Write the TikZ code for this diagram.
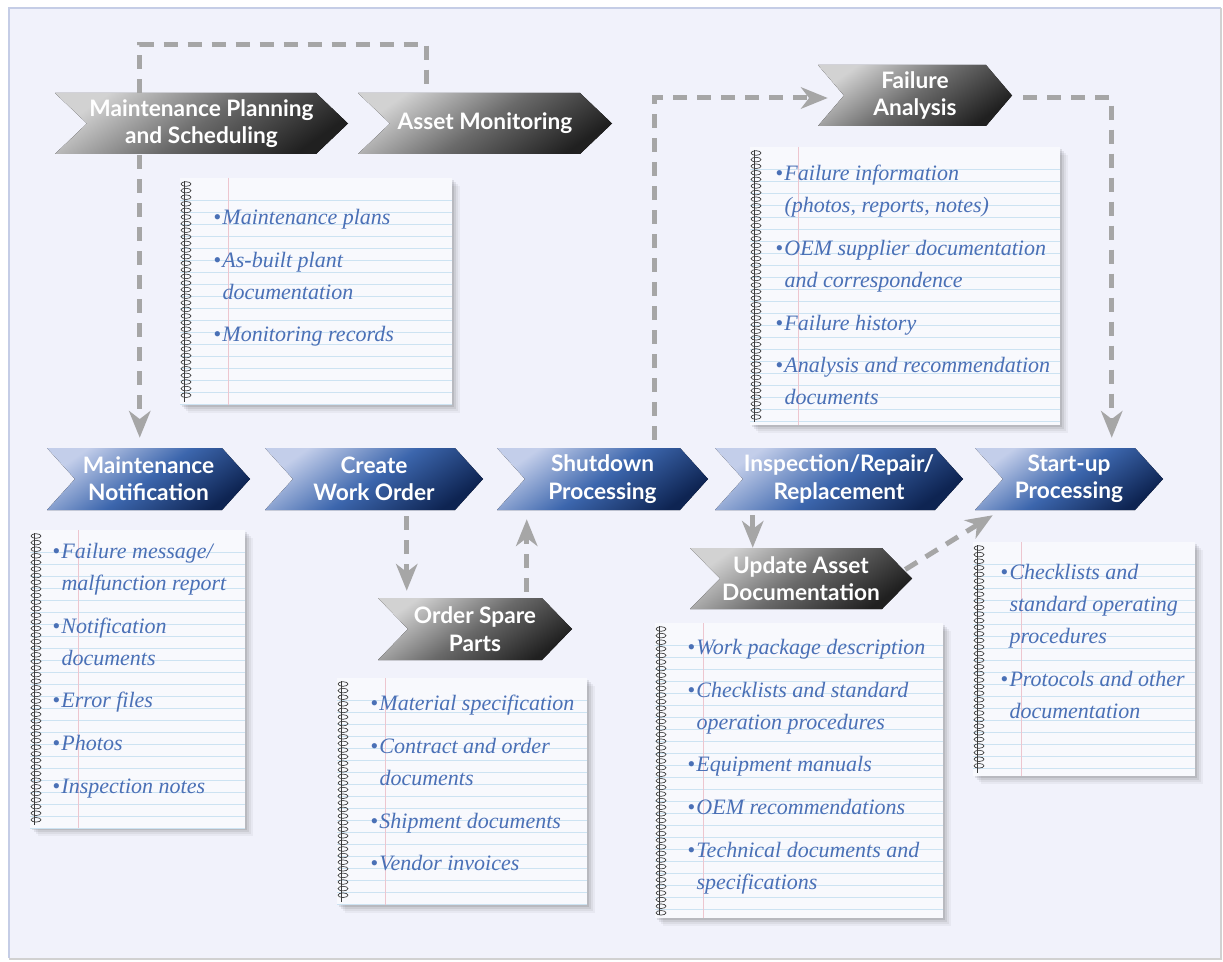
\documentclass[tikz,border=0pt]{standalone}
\usepackage{fontspec}
\newfontfamily\chevfont{Lato}
\newfontfamily\handfont{Liberation Serif}
\usetikzlibrary{arrows.meta,calc}
\definecolor{panelbg}{HTML}{F1F2FB}
\definecolor{panelrule}{HTML}{C5CDE6}
\definecolor{conncol}{HTML}{A6A6A6}
\definecolor{nbpaper}{HTML}{F8F9FD}
\definecolor{nblinec}{HTML}{CDE3F2}
\definecolor{nbmarginc}{HTML}{EDC6CF}
\definecolor{nbblue}{HTML}{4A70B6}
\definecolor{ringcol}{HTML}{3A3A3A}
\definecolor{gtop}{HTML}{D2D2D2}
\definecolor{gmid}{HTML}{6A6A6A}
\definecolor{gbot}{HTML}{202020}
\definecolor{btop}{HTML}{C3CEEA}
\definecolor{bmid}{HTML}{3C66AD}
\definecolor{bbot}{HTML}{0E2452}
\newcommand\bul{\makebox[0.42em][l]{\textbullet}}
\newcommand\ind{\hspace*{0.42em}}
% chevron: #1 name, #2 fill style, #3 left, #4 right, #5 top, #6 bottom, #7 depth, #8 text
\newcommand\chev[8]{%
  \fill[#2] (#3,#5) -- (#4-#7,#5) -- (#4,{(#5+#6)/2}) -- (#4-#7,#6) -- (#3,#6) -- (#3+#7,{(#5+#6)/2}) -- cycle;
  \node[chevtext, minimum width={(#4-#3)*0.75pt}, minimum height={(#6-#5)*0.75pt}] (#1) at ({(#3+#4)/2},{(#5+#6)/2}) {#8};
}
% notebook: #1 x1, #2 y1, #3 x2, #4 y2
\newcommand\notebook[4]{%
  \foreach \s/\o in {8/0.04,6/0.05,4/0.07,2/0.09} {\fill[black,opacity=\o] (#1+\s,#2+\s) rectangle (#3+\s,#4+\s);}
  \fill[nbpaper] (#1,#2) rectangle (#3,#4);
  \begin{scope}
    \clip (#1,#2+20) rectangle (#3,#4);
    \foreach \k in {0,...,30} {\draw[nbline] (#1,#2+22+12*\k) -- (#3,#2+22+12*\k);}
  \end{scope}
  \draw[nbmargin] (#1+48,#2) -- (#1+48,#4);
  \draw[ringc] (#1+4,#2+3) -- (#1+4,#4-3);
  \pgfmathsetmacro\ya{#2+6}\pgfmathsetmacro\yb{#2+12.6}\pgfmathsetmacro\yc{#4-4}
  \foreach \yy in {\ya,\yb,...,\yc} {\draw[ringc] (#1+6,\yy) ellipse [x radius=5,y radius=2.3];}
}
\begin{document}
\begin{tikzpicture}[x=0.75pt,y=-0.75pt,
  chevtext/.style={inner sep=0pt, text=white, align=center, font=\chevfont\bfseries\fontsize{17}{20.5}\selectfont},
  graychev/.style={top color=gtop, bottom color=gbot, middle color=gmid, shading angle=35},
  bluechev/.style={top color=btop, bottom color=bbot, middle color=bmid, shading angle=35},
  nbline/.style={draw=nblinec, line width=0.6pt},
  nbmargin/.style={draw=nbmarginc, line width=0.6pt},
  ringc/.style={draw=ringcol, line width=0.5pt},
  nbtext/.style={inner sep=0pt, anchor=north west, align=left, text=nbblue, font=\handfont\itshape\fontsize{16.5}{24}\selectfont},
  conn/.style={draw=conncol, line width=3.75pt, dash pattern=on 10.5pt off 7.5pt},
  arr/.style={conn, -{Stealth[length=20pt,width=16pt,inset=6pt]}}
]
\useasboundingbox (0,0) rectangle (1223,962);
\fill[white] (0,0) rectangle (1223,962);
\fill[panelbg] (9,8) rectangle (1221,958);
\draw[panelrule, line width=1.2pt] (9,958) -- (9,8) -- (1221,8);
\draw[black!18, line width=1.2pt] (9,959) -- (1221,959) -- (1221,8);

% notebooks
\notebook{180}{178}{452}{405}
\notebook{30}{530}{245}{828}
\notebook{337}{678}{587}{905}
\notebook{655}{623}{943}{918}
\notebook{973}{542}{1195}{776}
\notebook{750}{147}{1060}{425}

\node[nbtext] (nb1) at (213,209) {\bul Maintenance plans\\[8pt]\bul As-built plant\\\ind documentation\\[8pt]\bul Monitoring records};
\node[nbtext] (nb2) at (52,543) {\bul Failure message/\\\ind malfunction report\\[8pt]\bul Notification\\\ind documents\\[8pt]\bul Error files\\[8pt]\bul Photos\\[8pt]\bul Inspection notes};
\node[nbtext] (nb3) at (370,695) {\bul Material specification\\[8pt]\bul Contract and order\\\ind documents\\[8pt]\bul Shipment documents\\[8pt]\bul Vendor invoices};
\node[nbtext] (nb4) at (687,639) {\bul Work package description\\[8pt]\bul Checklists and standard\\\ind operation procedures\\[8pt]\bul Equipment manuals\\[8pt]\bul OEM recommendations\\[8pt]\bul Technical documents and\\\ind specifications};
\node[nbtext] (nb5) at (1000,564) {\bul Checklists and\\\ind standard operating\\\ind procedures\\[8pt]\bul Protocols and other\\\ind documentation};
\node[nbtext] (nb6) at (775,165) {\bul Failure information\\\ind (photos, reports, notes)\\[8pt]\bul OEM supplier documentation\\\ind and correspondence\\[8pt]\bul Failure history\\[8pt]\bul Analysis and recommendation\\\ind documents};

% chevrons
\chev{mps}{graychev}{55}{348}{93}{154}{32}{Maintenance Planning\\and Scheduling}
\chev{am}{graychev}{358}{612}{93}{154}{32}{Asset Monitoring}
\chev{fa}{graychev}{818}{1012}{65}{126}{26}{Failure\\Analysis}
\chev{osp}{graychev}{378}{572}{598}{660}{30}{Order Spare\\Parts}
\chev{uad}{graychev}{690}{912}{548}{609}{30}{Update Asset\\Documentation}
\chev{mn}{bluechev}{47}{250}{448}{510}{28}{Maintenance\\Notification}
\chev{cwo}{bluechev}{265}{483}{448}{510}{28}{Create\\Work Order}
\chev{sp}{bluechev}{497}{708}{448}{510}{28}{Shutdown\\Processing}
\chev{irr}{bluechev}{715}{963}{448}{510}{28}{Inspection/Repair/\\Replacement}
\chev{sup}{bluechev}{975}{1163}{448}{510}{28}{Start-up\\Processing}

% connectors
\draw[conn] ($(mps.north west)+(85,0)$) -- ++(0,-48) -| ($(am.north west)+(69,0)$);
\draw[arr] ($(mps.south west)+(85,1)$) -- ($(mn.north west)+(93,-10)$);
\draw[arr] ($(cwo.south west)+(142,6)$) -- ($(osp.north west)+(29,-7)$);
\draw[arr] ($(osp.north west)+(149,-6)$) -- ($(sp.south west)+(30,9)$);
\draw[arr] ($(sp.north west)+(158,-8)$) |- ($(fa.west)+(10,2.5)$);
\draw[arr] ($(fa.east)+(11,2.5)$) -| ($(sup.north west)+(137,-10)$);
\draw[arr] ($(irr.south west)+(38,5)$) -- ($(uad.north west)+(63,0)$);
\draw[arr] ($(uad.east)+(-7,-9)$) -- ($(sup.south west)+(18,5)$);
\end{tikzpicture}
\end{document}
